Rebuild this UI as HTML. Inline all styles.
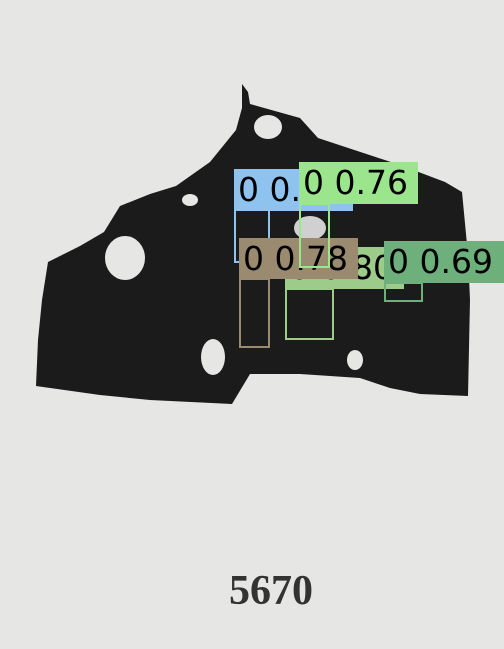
<!DOCTYPE html>
<html><head><meta charset="utf-8"><style>
html,body{margin:0;padding:0;background:#e6e6e4;}
svg{display:block}
</style></head><body>
<svg width="504" height="649" viewBox="0 0 504 649">
<rect width="504" height="649" fill="#e6e6e4"/>
<g>
<polygon fill="#1b1b1b" points="242,84 248,92 250,104 300,118 318,138 400,165 445,182 462,192 468,255 470,300 468,396 420,394 390,388 360,378 300,374 250,374 232,404 150,400 100,395 36,386 38,340 42,300 48,262 80,246 104,232 120,206 150,194 176,186 210,162 236,130 242,108"/>
<ellipse cx="268" cy="127" rx="14" ry="12" fill="#e6e6e4"/>
<ellipse cx="125" cy="258" rx="20" ry="22" fill="#e6e6e4"/>
<ellipse cx="213" cy="357" rx="12" ry="18" fill="#e6e6e4"/>
<ellipse cx="190" cy="200" rx="8" ry="6" fill="#e6e6e4"/>
<ellipse cx="310" cy="228" rx="16" ry="12" fill="#d0d0d0"/>
<ellipse cx="355" cy="360" rx="8" ry="10" fill="#e6e6e4"/>
</g>
<g style="font-family:'DejaVu Sans','Liberation Sans',sans-serif;font-size:33px">
<g>
<rect x="235" y="210" width="34" height="52" fill="none" stroke="#8ec3f0" stroke-width="2"/>
<rect x="234" y="169" width="119" height="42" fill="#8ec3f0"/>
<text x="238" y="201" fill="#000">0 0.</text>
</g>
<g>
<rect x="286" y="289" width="47" height="50" fill="none" stroke="#9ccb8a" stroke-width="2"/>
<rect x="285" y="247" width="119" height="42" fill="#9ccb8a"/>
<text x="289" y="279" fill="#000">0 0.80</text>
</g>
<g>
<rect x="240" y="279" width="29" height="68" fill="none" stroke="#9a8a70" stroke-width="2"/>
<rect x="239" y="238" width="119" height="41" fill="#9a8a70"/>
<text x="243" y="270" fill="#000">0 0.78</text>
</g>
<g>
<rect x="300" y="204" width="29" height="63" fill="none" stroke="#9be58c" stroke-width="2"/>
<rect x="299" y="162" width="119" height="42" fill="#9be58c"/>
<text x="303" y="194" fill="#000">0 0.76</text>
</g>
<g>
<rect x="385" y="283" width="37" height="18" fill="none" stroke="#6db07c" stroke-width="2"/>
<rect x="384" y="241" width="120" height="42" fill="#6db07c"/>
<text x="388" y="273" fill="#000">0 0.69</text>
</g>
</g>
<text x="271" y="604" text-anchor="middle" style="font-family:'Liberation Serif',serif;font-weight:bold;font-size:42px" fill="#333">5670</text>
</svg>
</body></html>
